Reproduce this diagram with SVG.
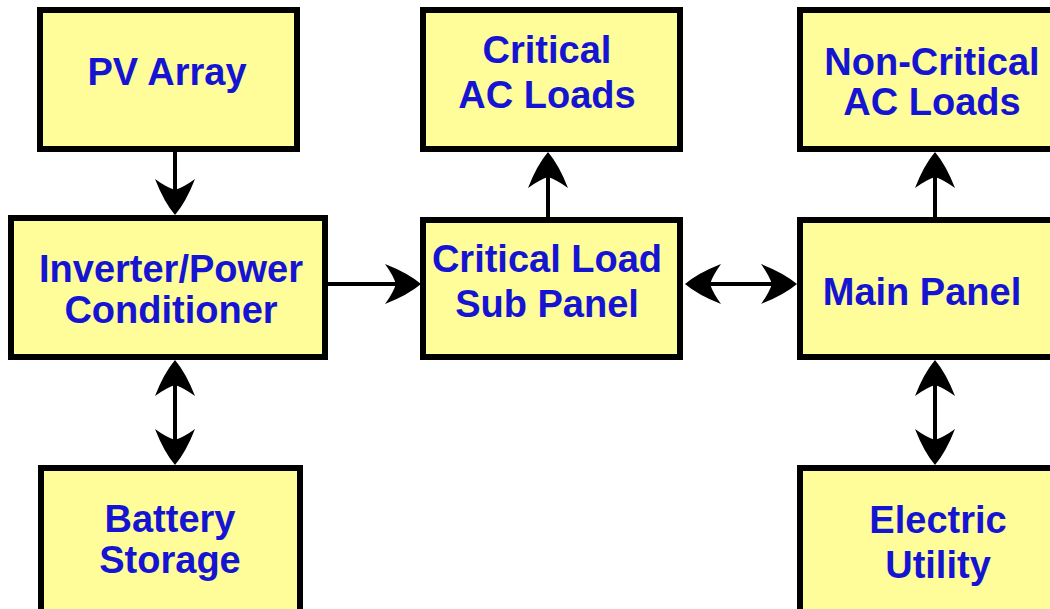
<svg xmlns="http://www.w3.org/2000/svg" xmlns:xlink="http://www.w3.org/1999/xlink" width="1050" height="609" viewBox="0 0 1050 609">
  <style>
    .box { fill: #FFFC9A; stroke: #000; stroke-width: 6; }
    .lbl { font-family: "Liberation Sans", Arial, Helvetica, sans-serif; font-weight: bold; font-size: 38px; fill: #1414D2; text-anchor: middle; }
    .conn { stroke: #000; stroke-width: 4; fill: none; }
    .head { fill: #000; stroke: none; }
  </style>
  <defs>
    <path id="ah" class="head" d="M0,0 Q-13,-11 -36,-20 Q-28,-9 -25,0 Q-28,9 -36,20 Q-13,11 0,0 Z"/>
  </defs>
  <rect width="1050" height="609" fill="#ffffff"/>

  <g id="connectors">
    <line class="conn" x1="175" y1="152" x2="175" y2="198"/>
    <use xlink:href="#ah" href="#ah" transform="translate(175,215) rotate(90)"/>

    <line class="conn" x1="328" y1="284" x2="403" y2="284"/>
    <use xlink:href="#ah" href="#ah" transform="translate(421,284)"/>

    <line class="conn" x1="704" y1="284" x2="779" y2="284"/>
    <use xlink:href="#ah" href="#ah" transform="translate(685,284) rotate(180)"/>
    <use xlink:href="#ah" href="#ah" transform="translate(797,284)"/>

    <line class="conn" x1="548" y1="217" x2="548" y2="170"/>
    <use xlink:href="#ah" href="#ah" transform="translate(548,152) rotate(-90)"/>

    <line class="conn" x1="935" y1="217" x2="935" y2="170"/>
    <use xlink:href="#ah" href="#ah" transform="translate(935,152) rotate(-90)"/>

    <line class="conn" x1="175" y1="378" x2="175" y2="447"/>
    <use xlink:href="#ah" href="#ah" transform="translate(175,360) rotate(-90)"/>
    <use xlink:href="#ah" href="#ah" transform="translate(175,465) rotate(90)"/>

    <line class="conn" x1="935" y1="378" x2="935" y2="447"/>
    <use xlink:href="#ah" href="#ah" transform="translate(935,360) rotate(-90)"/>
    <use xlink:href="#ah" href="#ah" transform="translate(935,465) rotate(90)"/>
  </g>

  <g id="pv-array">
    <rect class="box" x="40" y="10" width="257" height="139"/>
    <text class="lbl" x="167" y="85">PV Array</text>
  </g>

  <g id="inverter">
    <rect class="box" x="11" y="218" width="314" height="139"/>
    <text class="lbl" x="171" y="282">Inverter/Power</text>
    <text class="lbl" x="171" y="323">Conditioner</text>
  </g>

  <g id="battery">
    <rect class="box" x="41" y="468" width="259" height="150"/>
    <text class="lbl" x="170" y="532">Battery</text>
    <text class="lbl" x="170" y="573">Storage</text>
  </g>

  <g id="critical-ac-loads">
    <rect class="box" x="423" y="10" width="257" height="139"/>
    <text class="lbl" x="547" y="63">Critical</text>
    <text class="lbl" x="547" y="108">AC Loads</text>
  </g>

  <g id="critical-load-sub-panel">
    <rect class="box" x="423" y="220" width="257" height="137"/>
    <text class="lbl" x="547" y="272">Critical Load</text>
    <text class="lbl" x="547" y="317">Sub Panel</text>
  </g>

  <g id="non-critical-ac-loads">
    <rect class="box" x="800" y="10" width="275" height="139"/>
    <text class="lbl" x="932" y="75">Non-Critical</text>
    <text class="lbl" x="932" y="115">AC Loads</text>
  </g>

  <g id="main-panel">
    <rect class="box" x="800" y="220" width="275" height="137"/>
    <text class="lbl" x="922" y="305">Main Panel</text>
  </g>

  <g id="electric-utility">
    <rect class="box" x="800" y="468" width="275" height="150"/>
    <text class="lbl" x="938" y="533">Electric</text>
    <text class="lbl" x="938" y="578">Utility</text>
  </g>
</svg>
